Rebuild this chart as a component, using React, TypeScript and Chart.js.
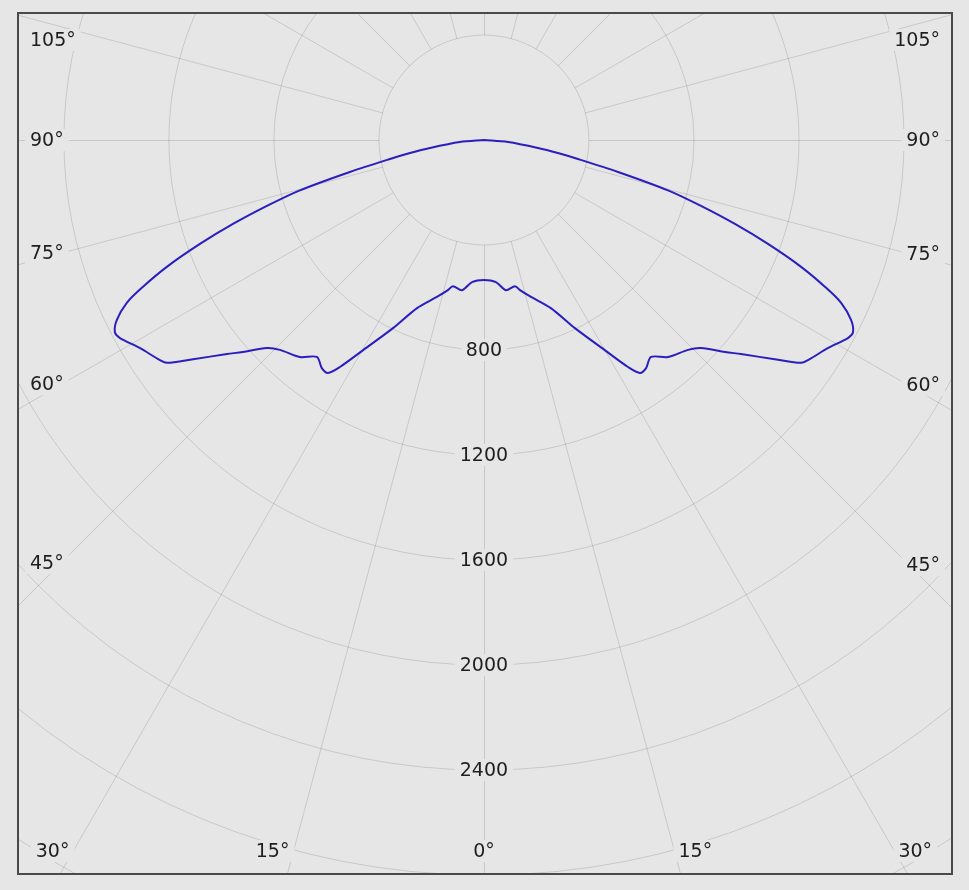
import React, { useEffect, useRef } from "react";
import { Chart, registerables } from "chart.js";

Chart.register(...registerables);

// Gamma angle (deg, 0 = straight down) and luminous intensity (cd) for one half of the curve.
// The distribution is symmetric, so the same half is drawn mirrored on the other side.
const gammaAngles = [
  0, 4.8, 8.3, 12.0, 13.5, 16.7, 21.7, 25.8, 29.9, 32.4, 33.8, 35.4, 37.6, 40.3,
  44.2, 46.2, 48.7, 50.2, 53.0, 54.9, 55.8, 58.8, 61.5, 62.5, 63.9, 65.5, 66.7,
  68.2, 69.9, 71.5, 73.1, 74.7, 76.6, 78.6, 80.0, 81.6, 85.2, 90,
];
const intensities = [
  533, 543, 578, 569, 588, 624, 689, 796, 923, 1024, 1068, 1066, 1043, 1084,
  1115, 1145, 1223, 1274, 1387, 1476, 1492, 1531, 1579, 1585, 1557, 1495, 1415,
  1301, 1152, 1008, 864, 727, 525, 365, 286, 208, 92, 0,
];

// Grid
const ringValues = [400, 800, 1200, 1600, 2000, 2400, 2800, 3200];
const ringLabels = [800, 1200, 1600, 2000, 2400];
const spokeStep = 15;
const sideAngleLabels = [105, 90, 75, 60, 45];
const bottomAngleLabels = [30, 15, 0];

const BG = "#e6e6e6";
const GRID = "rgba(0,0,0,0.13)";
const TEXT = "#1e1e1e";
const FONT = '19px "DejaVu Sans", Verdana, sans-serif';
const CURVE = "#2a1fbe";

const rad = (d: number) => (d * Math.PI) / 180;

function polar(g: number, I: number, side: number) {
  return { x: side * I * Math.sin(rad(g)), y: -I * Math.cos(rad(g)) };
}

function buildCurve() {
  const pts: { x: number; y: number }[] = [];
  for (let i = gammaAngles.length - 1; i >= 0; i--) pts.push(polar(gammaAngles[i], intensities[i], 1));
  for (let i = 1; i < gammaAngles.length; i++) pts.push(polar(gammaAngles[i], intensities[i], -1));
  return pts;
}

function labelWithBg(ctx: CanvasRenderingContext2D, text: string, x: number, y: number, align: CanvasTextAlign) {
  ctx.font = FONT;
  const w = ctx.measureText(text).width;
  let left = x;
  if (align === "center") left = x - w / 2;
  else if (align === "right") left = x - w;
  ctx.fillStyle = BG;
  ctx.fillRect(left - 5, y - 11, w + 10, 22);
  ctx.fillStyle = TEXT;
  ctx.textAlign = align;
  ctx.textBaseline = "middle";
  ctx.fillText(text, x, y + 1);
}

const polarGrid = {
  id: "polarGrid",
  beforeDraw(chart: any) {
    const { ctx, width, height } = chart;
    ctx.save();
    ctx.fillStyle = BG;
    ctx.fillRect(0, 0, width, height);
    ctx.restore();
  },
  beforeDatasetsDraw(chart: any) {
    const { ctx, chartArea: a, scales } = chart;
    const cx = scales.x.getPixelForValue(0);
    const cy = scales.y.getPixelForValue(0);
    const k = (scales.x.getPixelForValue(1000) - cx) / 1000;
    ctx.save();
    ctx.beginPath();
    ctx.rect(a.left, a.top, a.right - a.left, a.bottom - a.top);
    ctx.clip();
    ctx.strokeStyle = GRID;
    ctx.lineWidth = 1;
    for (const r of ringValues) {
      ctx.beginPath();
      ctx.arc(cx, cy, r * k, 0, Math.PI * 2);
      ctx.stroke();
    }
    const r0 = ringValues[0] * k;
    const r1 = ringValues[ringValues.length - 1] * k * 1.5;
    for (let g = 0; g < 360; g += spokeStep) {
      const dx = Math.sin(rad(g));
      const dy = Math.cos(rad(g));
      const ox = Math.abs(dx) < 1e-6 ? 0.5 : 0;
      const oy = Math.abs(dy) < 1e-6 ? 0.5 : 0;
      ctx.beginPath();
      ctx.moveTo(Math.round(cx + dx * r0) + ox, Math.round(cy + dy * r0) + oy);
      ctx.lineTo(Math.round(cx + dx * r1) + ox, Math.round(cy + dy * r1) + oy);
      ctx.stroke();
    }
    // intensity labels along the 0° line
    for (const v of ringLabels) labelWithBg(ctx, String(v), cx, cy + v * k, "center");
    // side angle labels
    for (const g of sideAngleLabels) {
      const cot = Math.cos(rad(g)) / Math.sin(rad(g));
      const yl = Math.max(cy + cot * (cx - (a.left + 42)), a.top + 26);
      labelWithBg(ctx, g + "°", a.left + 11, yl, "left");
      const yr = Math.max(cy + cot * (a.right - 42 - cx), a.top + 26);
      labelWithBg(ctx, g + "°", a.right - 11, yr, "right");
    }
    // bottom angle labels
    const by = a.bottom - 22;
    for (const g of bottomAngleLabels) {
      const dx = Math.tan(rad(g)) * (by - cy);
      if (g === 0) {
        labelWithBg(ctx, g + "°", cx, by, "center");
      } else {
        labelWithBg(ctx, g + "°", cx - dx - 4, by, "right");
        labelWithBg(ctx, g + "°", cx + dx + 4, by, "left");
      }
    }
    ctx.restore();
  },
  afterDraw(chart: any) {
    const { ctx, chartArea: a } = chart;
    ctx.save();
    ctx.strokeStyle = "#4a4a4a";
    ctx.lineWidth = 2;
    ctx.strokeRect(a.left - 1, a.top - 1, a.right - a.left + 2, a.bottom - a.top + 2);
    ctx.restore();
  },
};

export default function App() {
  const ref = useRef<HTMLCanvasElement | null>(null);
  useEffect(() => {
    document.body.style.margin = "0";
    document.body.style.background = BG;
    if (!ref.current) return;
    const chart = new Chart(ref.current, {
      type: "scatter",
      data: {
        datasets: [
          {
            data: buildCurve(),
            showLine: true,
            borderColor: CURVE,
            borderWidth: 2,
            pointRadius: 0,
            tension: 0.3,
            fill: false,
          } as any,
        ],
      },
      options: {
        animation: false,
        responsive: false,
        maintainAspectRatio: false,
        layout: { padding: { left: 19, right: 18, top: 14, bottom: 17 } },
        scales: {
          x: { type: "linear", min: -1771, max: 1779, display: false },
          y: { type: "linear", min: -2792, max: 480, display: false },
        },
        plugins: { legend: { display: false }, tooltip: { enabled: false } },
      },
      plugins: [polarGrid as any],
    });
    return () => chart.destroy();
  }, []);
  return (
    <div style={{ width: 969, height: 890 }}>
      <canvas ref={ref} width={969} height={890} style={{ display: "block" }} />
    </div>
  );
}
